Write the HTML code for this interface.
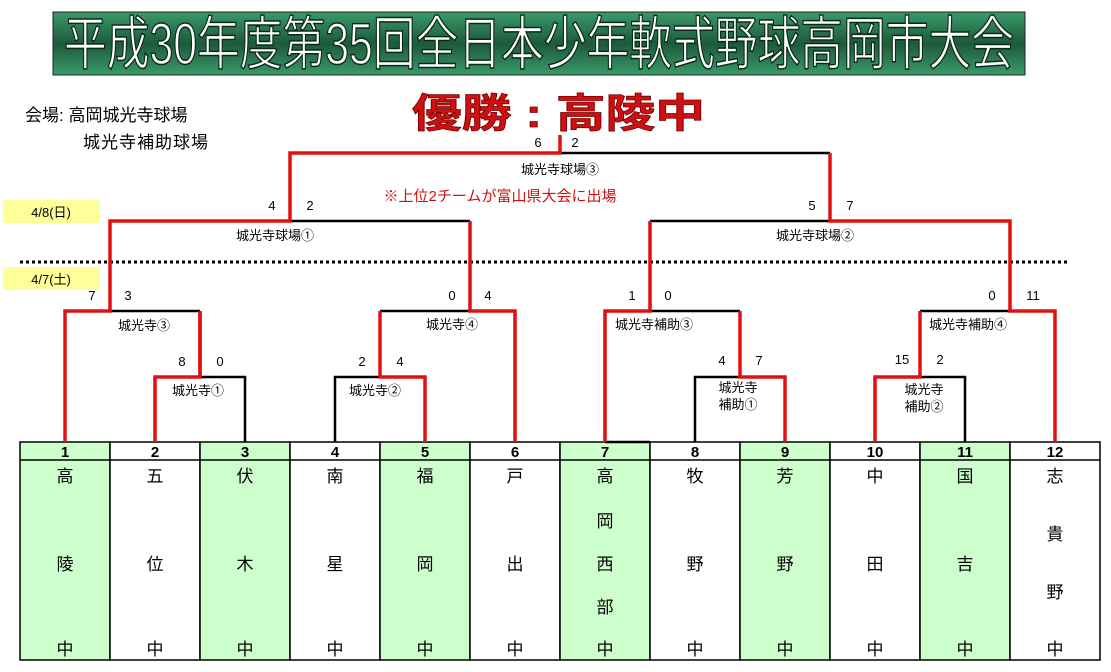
<!DOCTYPE html>
<html><head><meta charset="utf-8"><style>
html,body{margin:0;padding:0;background:#fff;}
svg{display:block;font-family:"Liberation Sans","Noto Sans CJK JP",sans-serif;}
</style></head><body>
<svg width="1111" height="672" viewBox="0 0 1111 672" xmlns="http://www.w3.org/2000/svg">
<defs><linearGradient id="g" x1="0" y1="0" x2="0" y2="1"><stop offset="0" stop-color="#3a9a6a"/><stop offset="0.5" stop-color="#1d5a3a"/><stop offset="1" stop-color="#3a9a6a"/></linearGradient></defs>
<rect x="53" y="12" width="972" height="63" fill="url(#g)" stroke="#222" stroke-width="1"/>
<text x="539" y="64" font-size="58" fill="#fff" stroke="#0a2a18" stroke-width="1.5" text-anchor="middle" textLength="950" lengthAdjust="spacingAndGlyphs">平成30年度第35回全日本少年軟式野球高岡市大会</text>
<text x="25" y="121" font-size="17" fill="#000">会場: 高岡城光寺球場</text>
<text x="83" y="148" font-size="17" fill="#000" letter-spacing="1">城光寺補助球場</text>
<text x="412" y="127" font-size="40" font-weight="bold" fill="#d01010" stroke="#700" stroke-width="0.8" textLength="293" lengthAdjust="spacingAndGlyphs">優勝 : 高陵中</text>
<rect x="3" y="200" width="97" height="23" fill="#ffff99"/>
<text x="51" y="217" font-size="13" text-anchor="middle">4/8(日)</text>
<rect x="3" y="267" width="97" height="23" fill="#ffff99"/>
<text x="51" y="284" font-size="13" text-anchor="middle">4/7(土)</text>
<line x1="20" y1="262" x2="1070" y2="262" stroke="#000" stroke-width="3" stroke-dasharray="3,3"/>
<g stroke="#000" stroke-width="1.5">
<rect x="20" y="442" width="90" height="218" fill="#ccffcc"/>
<rect x="110" y="442" width="90" height="218" fill="#fff"/>
<rect x="200" y="442" width="90" height="218" fill="#ccffcc"/>
<rect x="290" y="442" width="90" height="218" fill="#fff"/>
<rect x="380" y="442" width="90" height="218" fill="#ccffcc"/>
<rect x="470" y="442" width="90" height="218" fill="#fff"/>
<rect x="560" y="442" width="90" height="218" fill="#ccffcc"/>
<rect x="650" y="442" width="90" height="218" fill="#fff"/>
<rect x="740" y="442" width="90" height="218" fill="#ccffcc"/>
<rect x="830" y="442" width="90" height="218" fill="#fff"/>
<rect x="920" y="442" width="90" height="218" fill="#ccffcc"/>
<rect x="1010" y="442" width="90" height="218" fill="#fff"/>
<line x1="20" y1="460" x2="1100" y2="460"/>
</g>
<g font-size="15" font-weight="bold" text-anchor="middle">
<text x="65" y="457">1</text><text x="155" y="457">2</text><text x="245" y="457">3</text><text x="335" y="457">4</text><text x="425" y="457">5</text><text x="515" y="457">6</text><text x="605" y="457">7</text><text x="695" y="457">8</text><text x="785" y="457">9</text><text x="875" y="457">10</text><text x="965" y="457">11</text><text x="1055" y="457">12</text>
</g>
<g font-size="17" text-anchor="middle">
<text x="65" y="482">高</text><text x="65" y="570">陵</text><text x="65" y="655">中</text>
<text x="155" y="482">五</text><text x="155" y="570">位</text><text x="155" y="655">中</text>
<text x="245" y="482">伏</text><text x="245" y="570">木</text><text x="245" y="655">中</text>
<text x="335" y="482">南</text><text x="335" y="570">星</text><text x="335" y="655">中</text>
<text x="425" y="482">福</text><text x="425" y="570">岡</text><text x="425" y="655">中</text>
<text x="515" y="482">戸</text><text x="515" y="570">出</text><text x="515" y="655">中</text>
<text x="605" y="482">高</text><text x="605" y="527">岡</text><text x="605" y="570">西</text><text x="605" y="613">部</text><text x="605" y="655">中</text>
<text x="695" y="482">牧</text><text x="695" y="570">野</text><text x="695" y="655">中</text>
<text x="785" y="482">芳</text><text x="785" y="570">野</text><text x="785" y="655">中</text>
<text x="875" y="482">中</text><text x="875" y="570">田</text><text x="875" y="655">中</text>
<text x="965" y="482">国</text><text x="965" y="570">吉</text><text x="965" y="655">中</text>
<text x="1055" y="482">志</text><text x="1055" y="540">貴</text><text x="1055" y="598">野</text><text x="1055" y="655">中</text>
</g>
<g stroke="#000" stroke-width="2.5" fill="none">
<path d="M200 377 H245 V442"/>
<path d="M335 442 V377 H380"/>
<path d="M110 311 H200"/>
<path d="M380 311 H470"/>
<path d="M290 221 H470"/>
<path d="M560 153 H830"/>
<path d="M695 442 V377 H740"/>
<path d="M650 311 H740"/>
<path d="M920 377 H965 V442"/>
<path d="M920 311 H1010"/>
<path d="M650 221 H830"/>
<path d="M605 442 H650"/>
</g>
<g stroke="#e01010" stroke-width="3.5" fill="none">
<path d="M155 442 V377 H200 V311"/>
<path d="M65 442 V311 H110 V221 H290 V153 H560 V135"/>
<path d="M200 311 V377"/>
<path d="M425 442 V377 H380 V311"/>
<path d="M515 442 V311 H470 V221"/>
<path d="M785 442 V377 H740 V311"/>
<path d="M605 442 V311 H650 V221"/>
<path d="M875 442 V377 H920 V311"/>
<path d="M1055 442 V311 H1010 V221 H830 V153"/>
</g>
<g font-size="13" text-anchor="middle">
<text x="538" y="147">6</text><text x="575" y="147">2</text>
<text x="560" y="174">城光寺球場③</text>
<text x="500" y="201" fill="#d01010" font-size="15">※上位2チームが富山県大会に出場</text>
<text x="272" y="210">4</text><text x="310" y="210">2</text>
<text x="812" y="210">5</text><text x="850" y="210">7</text>
<text x="275" y="240">城光寺球場①</text>
<text x="815" y="240">城光寺球場②</text>
<text x="92" y="300">7</text><text x="128" y="300">3</text>
<text x="452" y="300">0</text><text x="488" y="300">4</text>
<text x="632" y="300">1</text><text x="668" y="300">0</text>
<text x="992" y="300">0</text><text x="1033" y="300">11</text>
<text x="144" y="330">城光寺③</text>
<text x="452" y="329">城光寺④</text>
<text x="654" y="329">城光寺補助③</text>
<text x="968" y="329">城光寺補助④</text>
<text x="182" y="366">8</text><text x="220" y="366">0</text>
<text x="362" y="366">2</text><text x="400" y="366">4</text>
<text x="722" y="365">4</text><text x="759" y="365">7</text>
<text x="902" y="364">15</text><text x="940" y="364">2</text>
<text x="198" y="395">城光寺①</text>
<text x="375" y="395">城光寺②</text>
<text x="738" y="392">城光寺</text><text x="738" y="409">補助①</text>
<text x="924" y="394">城光寺</text><text x="924" y="411">補助②</text>
</g>
</svg>
</body></html>
